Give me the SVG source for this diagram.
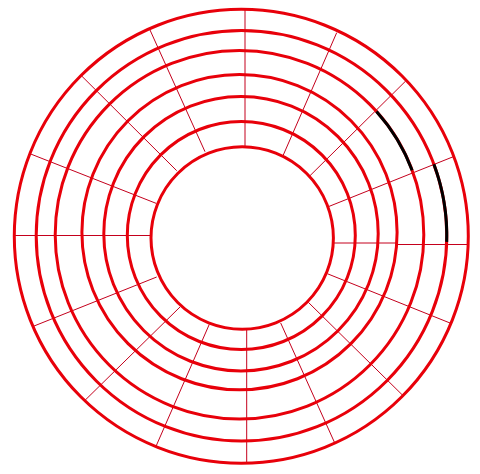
<svg xmlns="http://www.w3.org/2000/svg" width="480" height="474" viewBox="0 0 480 474">
<style>
.ring{fill:none;stroke:#e8000a;stroke-width:3}
.spoke{stroke:#c4001c;stroke-width:1;fill:none}
.mark{fill:none;stroke:#000;stroke-width:3}
</style>
<rect width="480" height="474" fill="#fff"/>
<g id="spokes">
<line class="spoke" x1="150" y1="30" x2="205" y2="151.7"/>
<line class="spoke" x1="81.7" y1="76" x2="176.7" y2="170.7"/>
<line class="spoke" x1="30.7" y1="154" x2="156" y2="203.3"/>
<line class="spoke" x1="13" y1="235.5" x2="151" y2="235.5"/>
<line class="spoke" x1="245" y1="9" x2="245" y2="146.5"/>
<line class="spoke" x1="336.7" y1="32.7" x2="283.3" y2="155"/>
<line class="spoke" x1="405.7" y1="81" x2="310" y2="175.7"/>
<line class="spoke" x1="453.3" y1="156.7" x2="328.3" y2="206.7"/>
<line class="spoke" x1="333" y1="243" x2="398" y2="243"/>
<line class="spoke" x1="398" y1="244.5" x2="468" y2="244.5"/>
<line class="spoke" x1="327.3" y1="273.7" x2="450" y2="323"/>
<line class="spoke" x1="308.3" y1="302.3" x2="402.7" y2="395.3"/>
<line class="spoke" x1="280.7" y1="323" x2="334.3" y2="442"/>
<line class="spoke" x1="246.7" y1="329" x2="246.7" y2="463.5"/>
<line class="spoke" x1="209.3" y1="324.3" x2="156" y2="446.3"/>
<line class="spoke" x1="180" y1="307" x2="85" y2="400.3"/>
<line class="spoke" x1="156.7" y1="277" x2="33.3" y2="326.3"/>
</g>
<g id="rings">
<circle class="ring" cx="242.2" cy="238" r="91.2"/>
<circle class="ring" cx="241.3" cy="235.5" r="114"/>
<circle class="ring" cx="241" cy="233.7" r="137.2"/>
<circle class="ring" cx="239.5" cy="232.2" r="157.6"/>
<circle class="ring" cx="239.5" cy="234.7" r="184.3"/>
<circle class="ring" cx="241.5" cy="235.8" r="205.3"/>
<circle class="ring" cx="241.3" cy="236.3" r="227"/>
</g>
<g id="highlight">
<path class="mark" d="M376.5,111.4 A184.3,184.3 0 0 1 412.1,170.2"/>
<path class="mark" d="M433.9,164.2 A205.3,205.3 0 0 1 446.7,241.9"/>
</g>
</svg>
